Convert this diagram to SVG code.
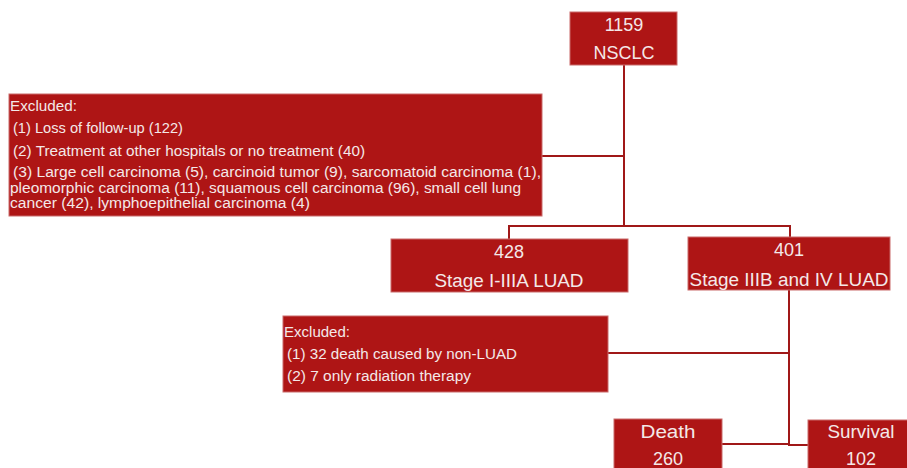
<svg xmlns="http://www.w3.org/2000/svg" width="907" height="468" viewBox="0 0 907 468">
<style>
.box{fill:#ae1515;stroke:#c96a6a;stroke-width:1}
.t{font-family:"Liberation Sans",Arial,sans-serif;fill:#f4e8e8}
.n{font-size:18px;text-anchor:middle}
.s{font-size:14px}
.c{fill:none;stroke:#a01818;stroke-width:2}
</style>
<rect width="907" height="468" fill="#ffffff"/>
<g id="connectors">
<path class="c" d="M624 65V226M509 239V226H790V237M542 156H624"/>
<path class="c" d="M789 290V445H808M608 353H789M722 444H789"/>
</g>
<g id="n1159">
<rect class="box" x="570" y="12" width="107" height="53"/>
<text class="t n" x="624" y="31">1159</text>
<text class="t n" x="624" y="59" textLength="61" lengthAdjust="spacingAndGlyphs">NSCLC</text>
</g>
<g id="excluded1">
<rect class="box" x="9" y="94" width="533" height="122"/>
<text class="t s" x="10" y="111" textLength="67" lengthAdjust="spacingAndGlyphs">Excluded:</text>
<text class="t s" x="13" y="133" textLength="170" lengthAdjust="spacingAndGlyphs">(1) Loss of follow-up (122)</text>
<text class="t s" x="13" y="156" textLength="352" lengthAdjust="spacingAndGlyphs">(2) Treatment at other hospitals or no treatment (40)</text>
<text class="t s" x="13" y="177" textLength="528" lengthAdjust="spacingAndGlyphs">(3) Large cell carcinoma (5), carcinoid tumor (9), sarcomatoid carcinoma (1),</text>
<text class="t s" x="10" y="193" textLength="511" lengthAdjust="spacingAndGlyphs">pleomorphic carcinoma (11), squamous cell carcinoma (96), small cell lung</text>
<text class="t s" x="10" y="208" textLength="300" lengthAdjust="spacingAndGlyphs">cancer (42), lymphoepithelial carcinoma (4)</text>
</g>
<g id="n428">
<rect class="box" x="391" y="239" width="237" height="53"/>
<text class="t n" x="509" y="258">428</text>
<text class="t n" x="509" y="287" textLength="149" lengthAdjust="spacingAndGlyphs">Stage I-IIIA LUAD</text>
</g>
<g id="n401">
<rect class="box" x="688" y="237" width="202" height="53"/>
<text class="t n" x="789" y="256">401</text>
<text class="t n" x="789" y="286" textLength="199" lengthAdjust="spacingAndGlyphs">Stage IIIB and IV LUAD</text>
</g>
<g id="excluded2">
<rect class="box" x="283" y="316" width="325" height="76"/>
<text class="t s" x="284" y="337" textLength="66" lengthAdjust="spacingAndGlyphs">Excluded:</text>
<text class="t s" x="287" y="359" textLength="230" lengthAdjust="spacingAndGlyphs">(1) 32 death caused by non-LUAD</text>
<text class="t s" x="287" y="381" textLength="184" lengthAdjust="spacingAndGlyphs">(2) 7 only radiation therapy</text>
</g>
<g id="death">
<rect class="box" x="614" y="419" width="108" height="60"/>
<text class="t n" x="668" y="438" textLength="55" lengthAdjust="spacingAndGlyphs">Death</text>
<text class="t n" x="668" y="465">260</text>
</g>
<g id="survival">
<rect class="box" x="808" y="420" width="105" height="60"/>
<text class="t n" x="861" y="438" textLength="67" lengthAdjust="spacingAndGlyphs">Survival</text>
<text class="t n" x="861" y="465">102</text>
</g>
</svg>
